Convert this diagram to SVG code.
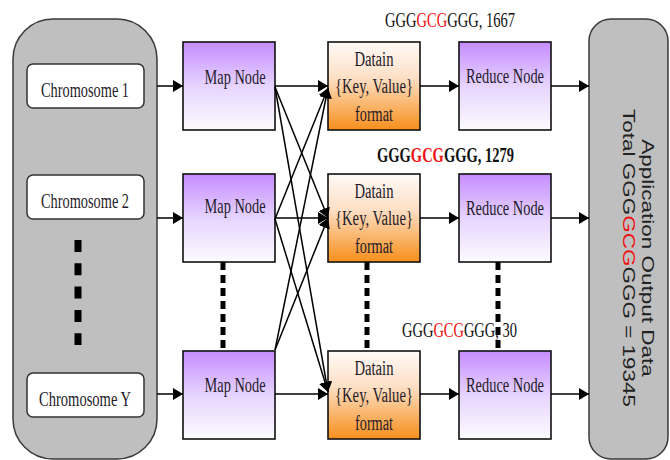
<svg xmlns="http://www.w3.org/2000/svg" width="670" height="460" viewBox="0 0 670 460">
<defs>
<linearGradient id="gPurple" x1="0" y1="0" x2="0" y2="1">
<stop offset="0" stop-color="#c68cff"/>
<stop offset="0.5" stop-color="#e6d4ff"/>
<stop offset="1" stop-color="#fdfbff"/>
</linearGradient>
<linearGradient id="gOrange" x1="0" y1="0" x2="0" y2="1">
<stop offset="0" stop-color="#fffaf7"/>
<stop offset="0.4" stop-color="#fde0c6"/>
<stop offset="1" stop-color="#f78f1c"/>
</linearGradient>
<marker id="arr" viewBox="0 0 10 12" refX="10" refY="6" markerWidth="10" markerHeight="12" markerUnits="userSpaceOnUse" orient="auto">
<path d="M0,0 L10,6 L0,12 z" fill="#000"/>
</marker>
</defs>
<style>
.cont{fill:#bfbfbf;stroke:#3a3a3a;stroke-width:1.5}
.chr{fill:#fff;stroke:#333;stroke-width:1.5}
.map{fill:url(#gPurple);stroke:#111;stroke-width:1.6}
.dat{fill:url(#gOrange);stroke:#111;stroke-width:1.6}
.t{font-family:"Liberation Serif","Times New Roman",serif;font-size:21px;fill:#1f1b2a;text-anchor:middle}
.d{font-family:"Liberation Serif","Times New Roman",serif;font-size:20px;fill:#1f1b2a;text-anchor:middle}
.lab{font-family:"Liberation Serif","Times New Roman",serif;font-size:21px;fill:#111;text-anchor:middle}
.side{font-family:"Liberation Sans",Arial,sans-serif;font-size:22.5px;fill:#222;text-anchor:middle}
.red{fill:#ee1111}
.ln{stroke:#000;stroke-width:1.5;fill:none;marker-end:url(#arr)}
.dash{stroke:#000;stroke-width:5;stroke-dasharray:8 5;fill:none}
</style>

<g id="input-container">
<rect class="cont" x="13" y="19" width="144" height="440" rx="40"/>
<line x1="78" y1="240" x2="78" y2="345" stroke="#000" stroke-width="7" stroke-dasharray="12 11.3"/>
</g>
<g id="chromosome-1">
<rect class="chr" x="27" y="64" width="117" height="44" rx="6"/>
<text class="t" x="85" y="97" textLength="88" lengthAdjust="spacingAndGlyphs">Chromosome 1</text>
</g>
<g id="chromosome-2">
<rect class="chr" x="27" y="175" width="117" height="44" rx="6"/>
<text class="t" x="85" y="208" textLength="88" lengthAdjust="spacingAndGlyphs">Chromosome 2</text>
</g>
<g id="chromosome-y">
<rect class="chr" x="27" y="373" width="117" height="44" rx="6"/>
<text class="t" x="85" y="406" textLength="92" lengthAdjust="spacingAndGlyphs">Chromosome Y</text>
</g>

<g id="map-1">
<rect class="map" x="183" y="42" width="92" height="88"/>
<text class="t" x="235" y="84" textLength="61" lengthAdjust="spacingAndGlyphs">Map Node</text>
</g>
<g id="map-2">
<rect class="map" x="183" y="174" width="92" height="88"/>
<text class="t" x="235" y="213" textLength="61" lengthAdjust="spacingAndGlyphs">Map Node</text>
</g>
<g id="map-3">
<rect class="map" x="183" y="351" width="92" height="88"/>
<text class="t" x="235" y="392" textLength="61" lengthAdjust="spacingAndGlyphs">Map Node</text>
</g>

<g id="data-1">
<rect class="dat" x="328" y="42" width="92" height="88"/>
<text class="d" x="374" y="65.5" textLength="39" lengthAdjust="spacingAndGlyphs">Datain</text>
<text class="d" x="374" y="93" textLength="78" lengthAdjust="spacingAndGlyphs">{Key, Value}</text>
<text class="d" x="374" y="120.5" textLength="38" lengthAdjust="spacingAndGlyphs">format</text>
</g>
<g id="data-2">
<rect class="dat" x="328" y="174" width="92" height="88"/>
<text class="d" x="374" y="197.5" textLength="39" lengthAdjust="spacingAndGlyphs">Datain</text>
<text class="d" x="374" y="225" textLength="78" lengthAdjust="spacingAndGlyphs">{Key, Value}</text>
<text class="d" x="374" y="252.5" textLength="38" lengthAdjust="spacingAndGlyphs">format</text>
</g>
<g id="data-3">
<rect class="dat" x="328" y="351" width="92" height="88"/>
<text class="d" x="374" y="374.5" textLength="39" lengthAdjust="spacingAndGlyphs">Datain</text>
<text class="d" x="374" y="402" textLength="78" lengthAdjust="spacingAndGlyphs">{Key, Value}</text>
<text class="d" x="374" y="429.5" textLength="38" lengthAdjust="spacingAndGlyphs">format</text>
</g>

<g id="reduce-1">
<rect class="map" x="459" y="42" width="92" height="88"/>
<text class="t" x="505" y="83" textLength="78" lengthAdjust="spacingAndGlyphs">Reduce Node</text>
</g>
<g id="reduce-2">
<rect class="map" x="459" y="174" width="92" height="88"/>
<text class="t" x="505" y="215" textLength="78" lengthAdjust="spacingAndGlyphs">Reduce Node</text>
</g>
<g id="reduce-3">
<rect class="map" x="459" y="351" width="92" height="88"/>
<text class="t" x="505" y="392" textLength="78" lengthAdjust="spacingAndGlyphs">Reduce Node</text>
</g>

<g id="output-container">
<rect class="cont" x="589" y="19" width="79" height="440" rx="22"/>
<g transform="translate(642,258) rotate(90) scale(1,0.72)">
<text class="side" x="0" y="0">Application Output Data</text>
<text class="side" x="0" y="26.4">Total GGG<tspan class="red">GCG</tspan>GGG = 19345</text>
</g>
</g>

<g id="connectors">
<line class="ln" x1="157" y1="86" x2="183" y2="86"/>
<line class="ln" x1="157" y1="218" x2="183" y2="218"/>
<line class="ln" x1="157" y1="394" x2="183" y2="394"/>
<line class="ln" x1="275" y1="86" x2="328" y2="86"/>
<line class="ln" x1="275" y1="218" x2="328" y2="218"/>
<line class="ln" x1="275" y1="394" x2="328" y2="394"/>
<line class="ln" x1="275" y1="87" x2="328" y2="218"/>
<line class="ln" x1="275" y1="87" x2="328" y2="392"/>
<line class="ln" x1="275" y1="219" x2="328" y2="88"/>
<line class="ln" x1="275" y1="219" x2="328" y2="392"/>
<line class="ln" x1="275" y1="350" x2="328" y2="88"/>
<line class="ln" x1="275" y1="350" x2="328" y2="218"/>
<line class="ln" x1="420" y1="86" x2="459" y2="86"/>
<line class="ln" x1="420" y1="218" x2="459" y2="218"/>
<line class="ln" x1="420" y1="394" x2="459" y2="394"/>
<line class="ln" x1="551" y1="86" x2="589" y2="86"/>
<line class="ln" x1="551" y1="218" x2="589" y2="218"/>
<line class="ln" x1="551" y1="394" x2="589" y2="394"/>
<line class="dash" x1="223" y1="262" x2="223" y2="351"/>
<line class="dash" x1="367" y1="262" x2="367" y2="351"/>
<line class="dash" x1="498" y1="262" x2="498" y2="351"/>
</g>

<g id="labels">
<g transform="translate(450,27) scale(0.692,1)">
<text class="lab" x="0" y="0">GGG<tspan class="red">GCG</tspan>GGG, 1667</text>
</g>
<g transform="translate(445.5,162) scale(0.691,1)">
<text class="lab" x="0" y="0" font-weight="bold">GGG<tspan class="red">GCG</tspan>GGG, 1279</text>
</g>
<g transform="translate(459.5,337) scale(0.689,1)">
<text class="lab" x="0" y="0">GGG<tspan class="red">GCG</tspan>GGG, 30</text>
</g>
</g>
</svg>
